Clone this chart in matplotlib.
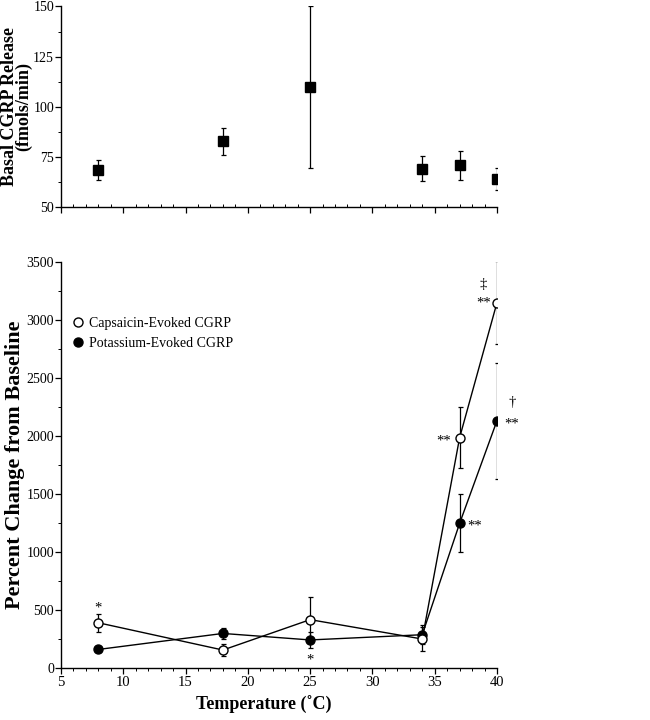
import matplotlib
matplotlib.use("Agg")
import matplotlib.pyplot as plt
from matplotlib.ticker import MultipleLocator
from matplotlib.lines import Line2D

plt.rcParams['font.family'] = ['Liberation Serif', 'DejaVu Serif']
plt.rcParams['axes.linewidth'] = 1.0

temps = [8, 18, 25, 34, 37, 40]
basal = [68.6, 82.7, 109.8, 69.1, 70.7, 64.1]
basal_err = [5.0, 6.7, 40.5, 6.2, 7.0, 5.5]

caps = [390, 155, 417, 250, 1986, 3150]
caps_err = [76, 55, 193, 105, 266, 360]
pot = [160, 298, 242, 287, 1247, 2132]
pot_err = [25, 45, 66, 83, 250, 500]

series_labels = ['Capsaicin-Evoked CGRP', 'Potassium-Evoked CGRP']

fig = plt.figure(figsize=(6.5, 7.2), dpi=100)
ax1 = fig.add_axes([0.0938, 0.7125, 0.6708, 0.2785])
ax2 = fig.add_axes([0.0938, 0.0722, 0.6708, 0.5639])

for ax in (ax1, ax2):
    ax.spines['top'].set_visible(False)
    ax.spines['right'].set_visible(False)
    ax.set_xlim(5, 40)
    ax.xaxis.set_major_locator(MultipleLocator(5))
    ax.xaxis.set_minor_locator(MultipleLocator(1))
    ax.tick_params(axis='x', which='major', direction='out', length=4, width=0.9, labelsize=10.5, pad=2)
    ax.tick_params(axis='x', which='minor', direction='out', length=2.5, width=0.7)
    ax.tick_params(axis='y', which='major', direction='out', length=4, width=0.9, labelsize=10, pad=1)
    ax.tick_params(axis='y', which='minor', direction='out', length=2.5, width=0.7)

ax1.tick_params(axis='x', which='minor', direction='in', length=2.5)

# Top panel
ax1.errorbar(temps, basal, yerr=basal_err, fmt='s', color='black', ms=7,
             ecolor='black', elinewidth=0.9, capsize=1.8, capthick=0.9)
ax1.set_ylim(50, 150)
ax1.yaxis.set_major_locator(MultipleLocator(25))
ax1.yaxis.set_minor_locator(MultipleLocator(12.5))
ax1.tick_params(axis='x', labelbottom=False)
ax1.set_ylabel('Basal CGRP Release\n(fmols/min)', fontsize=13, fontweight='bold',
               linespacing=0.8, labelpad=0.5)

# Bottom panel
ax2.errorbar(temps, caps, yerr=caps_err, fmt='-o', color='black', mfc='white',
             mec='black', ms=6.5, lw=1.0, elinewidth=0.9, capsize=1.8, capthick=0.9,
             zorder=3)
ax2.errorbar(temps, pot, yerr=pot_err, fmt='-o', color='black', mfc='black',
             mec='black', ms=6.5, lw=1.0, elinewidth=0.9, capsize=1.8, capthick=0.9,
             zorder=2)
ax2.set_ylim(0, 3500)
ax2.yaxis.set_major_locator(MultipleLocator(500))
ax2.yaxis.set_minor_locator(MultipleLocator(250))
ax2.set_xlabel('Temperature (˚C)', fontsize=13, fontweight='bold')
ax2.xaxis.set_label_coords(0.466, -0.07)
ax2.set_ylabel('Percent Change from Baseline', fontsize=16, fontweight='bold', labelpad=1)

h = [Line2D([], [], marker='o', ls='none', mfc='white', mec='black', ms=6.5),
     Line2D([], [], marker='o', ls='none', mfc='black', mec='black', ms=6.5)]
ax2.legend(h, series_labels, loc='center left', bbox_to_anchor=(0.024, 0.824),
           frameon=False, fontsize=10, handletextpad=0.3, labelspacing=0.45,
           borderaxespad=0, borderpad=0, handlelength=1.0)

# annotations
fs = 10.5
ax2.text(8, 515, '*', ha='center', va='center', fontsize=fs)
ax2.text(25, 70, '*', ha='center', va='center', fontsize=fs)
ax2.text(35.7, 1960, '**', ha='center', va='center', fontsize=fs)
ax2.text(38.2, 1225, '**', ha='center', va='center', fontsize=fs)
ax2.text(38.9, 3145, '**', ha='center', va='center', fontsize=fs)
ax2.text(38.9, 3310, '‡', ha='center', va='center', fontsize=fs)
ax2.text(41.2, 2100, '**', ha='center', va='center', fontsize=fs, clip_on=False)
ax2.text(41.2, 2290, '†', ha='center', va='center', fontsize=fs, clip_on=False)

fig.savefig('out.png', dpi=100)
